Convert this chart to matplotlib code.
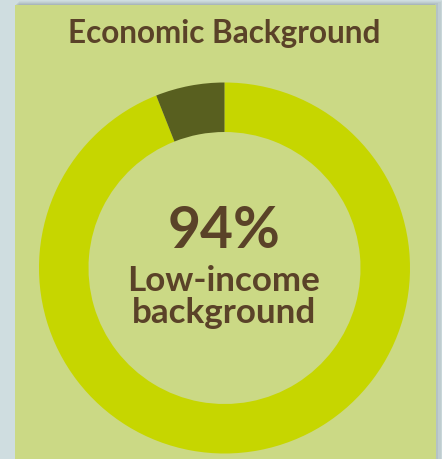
import matplotlib.pyplot as plt
from matplotlib.patches import Rectangle

# data
shares = [94, 6]
share_names = ['Low-income', 'Other']
share_colors = ['#c6d600', '#585f1f']
title = 'Economic Background'
big_label = '94%'
sub_label = 'Low-income\nbackground'

text_color = '#5a4228'
panel_color = '#cbd985'
page_color = '#cfdde0'

fig = plt.figure(figsize=(4.42, 4.60), dpi=100, facecolor=page_color)
ax = fig.add_axes([0, 0, 1, 1])
ax.set_facecolor(page_color)

# panel with a soft shadow
for i, a in enumerate([0.06, 0.08, 0.10, 0.12]):
    ax.add_patch(Rectangle((15 + 4 - i, -5), 421 + 2 * (4 - i) - 4, 460 - 6 + 5 + (4 - i),
                           color='#5a6a70', alpha=a, lw=0, zorder=0))
ax.add_patch(Rectangle((15, -5), 421, 460 - 6 + 5, color=panel_color, lw=0, zorder=1))

ax.pie(shares, colors=share_colors, startangle=90, counterclock=False,
       radius=185.5, center=(224.5, 191), frame=True,
       wedgeprops=dict(width=49.5, linewidth=0, zorder=2))

font = 'Lato'
ax.text(224, 427, title, ha='center', va='center', fontsize=22.7,
        fontweight='bold', color=text_color, family=font, zorder=3)
ax.text(224, 212, big_label, ha='center', va='baseline', fontsize=41,
        fontweight='bold', color=text_color, family=font, zorder=3)
lines = sub_label.split('\n')
ax.text(224, 169, lines[0], ha='center', va='baseline', fontsize=25.2,
        fontweight='bold', color=text_color, family=font, zorder=3)
ax.text(224, 137, lines[1], ha='center', va='baseline', fontsize=25.2,
        fontweight='bold', color=text_color, family=font, zorder=3)

ax.set_xlim(0, 442)
ax.set_ylim(0, 460)
ax.set_aspect('auto')
ax.axis('off')

fig.savefig('out.png', dpi=100, facecolor=page_color)
